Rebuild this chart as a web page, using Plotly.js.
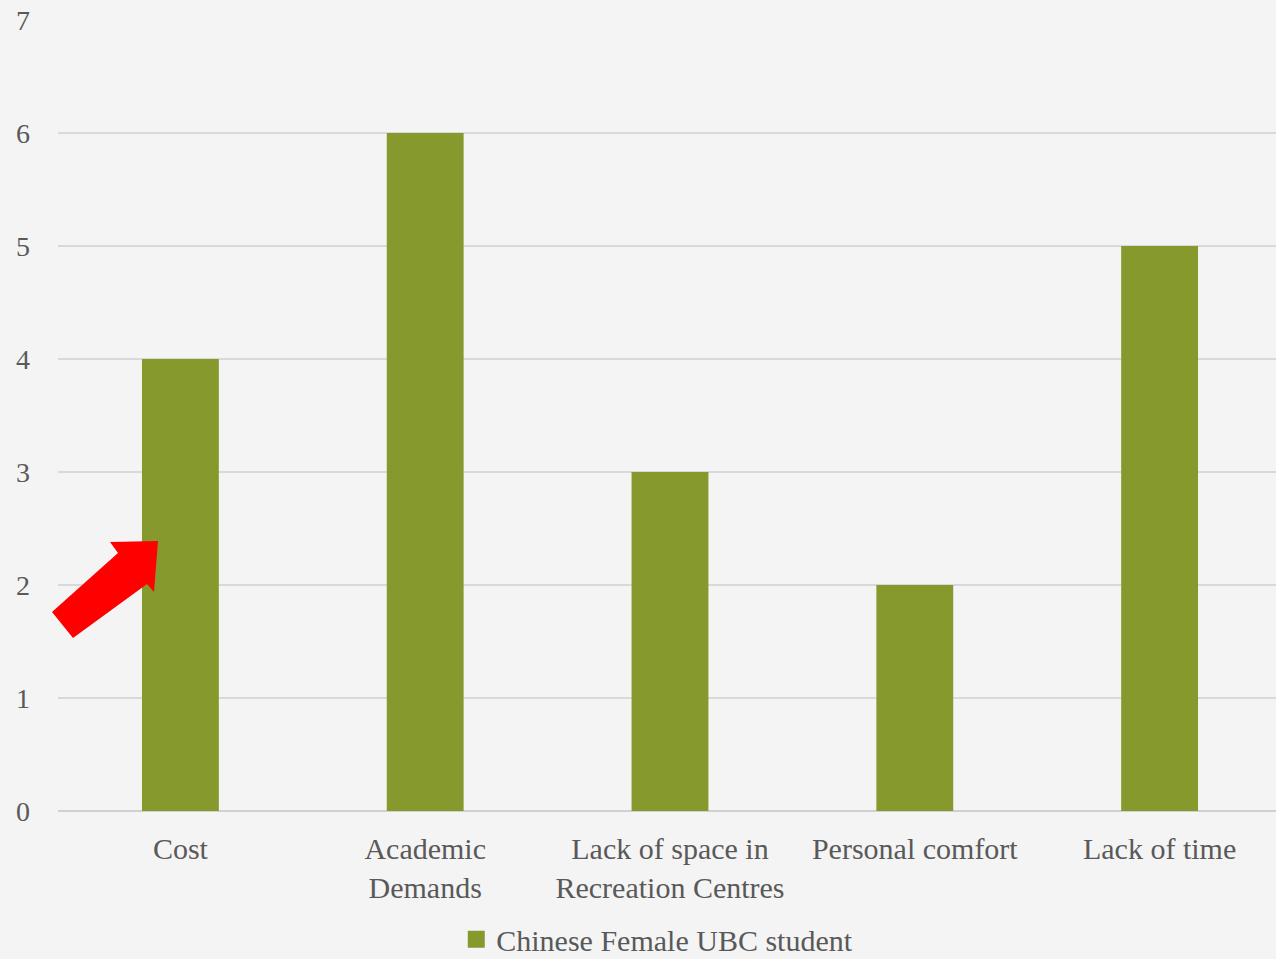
<!DOCTYPE html>
<html>
<head>
<meta charset="utf-8">
<script src="https://cdn.plot.ly/plotly-3.0.1.min.js"></script>
<style>html,body{margin:0;padding:0;background:#f4f4f4;overflow:hidden;}#wrap{width:1276px;height:959px;overflow:hidden;}#chart{width:1282px;height:959px;}</style>
</head>
<body>
<div id="wrap"><div id="chart"></div></div>
<script>
var categories = ["Cost", "Academic<br>Demands", "Lack of space in<br>Recreation Centres", "Personal comfort", "Lack of time"];
var values = [4, 6, 3, 2, 5];
var seriesName = "Chinese Female UBC student";
var yTicks = [0, 1, 2, 3, 4, 5, 6, 7];

var xfont = {family: "Liberation Serif, serif", color: "#595959", size: 30};
var yfont = {family: "Liberation Serif, serif", color: "#595959", size: 28};

Plotly.newPlot("chart", [{
  type: "bar",
  x: categories,
  y: values,
  name: seriesName,
  marker: {color: "#86992D"},
  showlegend: true,
  hoverinfo: "none"
}], {
  width: 1282, height: 959,
  paper_bgcolor: "#f4f4f4",
  plot_bgcolor: "rgba(0,0,0,0)",
  margin: {l: 58, r: 0, t: 20, b: 148, autoexpand: false},
  bargap: 0.686,
  font: xfont,
  xaxis: {
    showgrid: false, zeroline: false, showline: false, ticks: "",
    tickfont: xfont, automargin: false, ticklabelstandoff: 17
  },
  yaxis: {
    range: [0, 7], tickvals: yTicks, ticktext: yTicks.map(String),
    showgrid: true, gridcolor: "#d9d9d9", gridwidth: 2,
    zeroline: true, zerolinecolor: "#d0d0d0", zerolinewidth: 2,
    showline: false, ticks: "", ticklabelstandoff: 27,
    tickfont: yfont, automargin: false, fixedrange: true
  },
  legend: {
    orientation: "h", x: 0.4896, xanchor: "center", y: -0.162, yanchor: "middle",
    font: xfont, bgcolor: "rgba(0,0,0,0)", itemwidth: 30
  },
  shapes: [{
    type: "path", layer: "above",
    xref: "paper", yref: "paper",
    xsizemode: "pixel", ysizemode: "pixel", xanchor: 0, yanchor: 0,
    path: "M-6,199 L60,258 L52,269 L100,270 L96,219 L89,227 L15,173 Z",
    fillcolor: "#ff0000", line: {width: 0}
  }]
}, {staticPlot: true}).then(function (gd) {
  var pts = gd.querySelectorAll(".legend .legendpoints path");
  pts.forEach(function (p) { p.setAttribute("d", "M8.5,8.5H-8.5V-8.5H8.5Z"); });
});
</script>
</body>
</html>
